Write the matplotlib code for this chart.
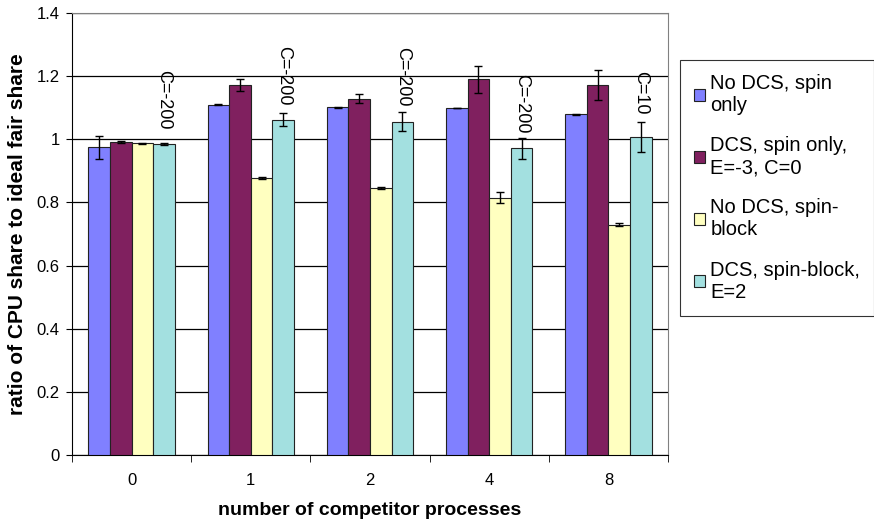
import numpy as np
import matplotlib
matplotlib.use("Agg")
import matplotlib.pyplot as plt

plt.rcParams['font.family'] = ['Liberation Sans', 'DejaVu Sans']

# data
groups = ["0", "1", "2", "4", "8"]
series = ["No DCS, spin\nonly",
          "DCS, spin only,\nE=-3, C=0",
          "No DCS, spin-\nblock",
          "DCS, spin-block,\nE=2"]
no_dcs_spin = [0.974, 1.110, 1.101, 1.099, 1.079]
dcs_spin = [0.991, 1.172, 1.129, 1.190, 1.171]
no_dcs_block = [0.987, 0.877, 0.845, 0.815, 0.730]
dcs_block = [0.986, 1.062, 1.056, 0.972, 1.007]
err_no_dcs_spin = [0.035, 0.002, 0.002, 0.001, 0.001]
err_dcs_spin = [0.003, 0.020, 0.013, 0.042, 0.048]
err_no_dcs_block = [0.001, 0.002, 0.004, 0.018, 0.006]
err_dcs_block = [0.003, 0.021, 0.029, 0.033, 0.048]
c_labels = ["C=-200", "C=-200", "C=-200", "C=-200", "C=10"]

colors = ["#8080FF", "#80205F", "#FFFFC0", "#A3E0E0"]
values = [no_dcs_spin, dcs_spin, no_dcs_block, dcs_block]
errors = [err_no_dcs_spin, err_dcs_spin, err_no_dcs_block, err_dcs_block]

fig = plt.figure(figsize=(8.74, 5.29), dpi=100)
ax = fig.add_axes([72/874, 1-455/529, (668-72)/874, (455-13)/529])

x = np.arange(len(groups))
w = 0.181
handles = []
for i, (vals, errs, col) in enumerate(zip(values, errors, colors)):
    b = ax.bar(x + (i - 1.5)*w, vals, w, color=col, edgecolor="#222222",
               linewidth=0.8, zorder=3, yerr=errs,
               error_kw=dict(ecolor="black", elinewidth=1, capsize=3, capthick=1))
    handles.append(b)

# labels above the last series
for xi, v, lab in zip(x, dcs_block, c_labels):
    ax.annotate(lab, (xi + 1.5*w, v), xytext=(0, 32), textcoords="offset points",
                rotation=270, ha="center", va="center", fontsize=13)

ax.set_xlim(-0.5, 4.5)
ax.set_ylim(0, 1.4)
ax.set_yticks(np.arange(0, 1.41, 0.2))
ax.set_yticklabels(["0", "0.2", "0.4", "0.6", "0.8", "1", "1.2", "1.4"], fontsize=12)
ax.set_xticks(x)
ax.set_xticklabels(groups, fontsize=12)
ax.set_xticks(np.arange(-0.5, 4.6, 1), minor=True)
ax.tick_params(axis="x", which="major", length=0, pad=13)
ax.tick_params(axis="x", which="minor", length=5, direction="out", color="black")
ax.tick_params(axis="y", length=4, direction="out", color="black", pad=5)
ax.yaxis.grid(True, color="black", linewidth=0.9, zorder=0)
ax.set_axisbelow(True)
for s in ["top", "right"]:
    ax.spines[s].set_color("#808080")
for s in ["left", "bottom"]:
    ax.spines[s].set_color("black")

ax.set_xlabel("number of competitor processes", fontsize=14, fontweight="bold", labelpad=10)
ax.set_ylabel("ratio of CPU share to ideal fair share", fontsize=15, fontweight="bold", labelpad=7)

leg = fig.legend(handles, series, loc="upper left", bbox_to_anchor=(680/874, 1-60/529),
                 fontsize=14.5, frameon=True, fancybox=False, edgecolor="black",
                 handlelength=0.55, handleheight=0.55, handletextpad=0.25,
                 labelspacing=1.05, borderpad=0.7, borderaxespad=0)
leg.get_frame().set_linewidth(0.8)

fig.savefig("out.png", dpi=100)
